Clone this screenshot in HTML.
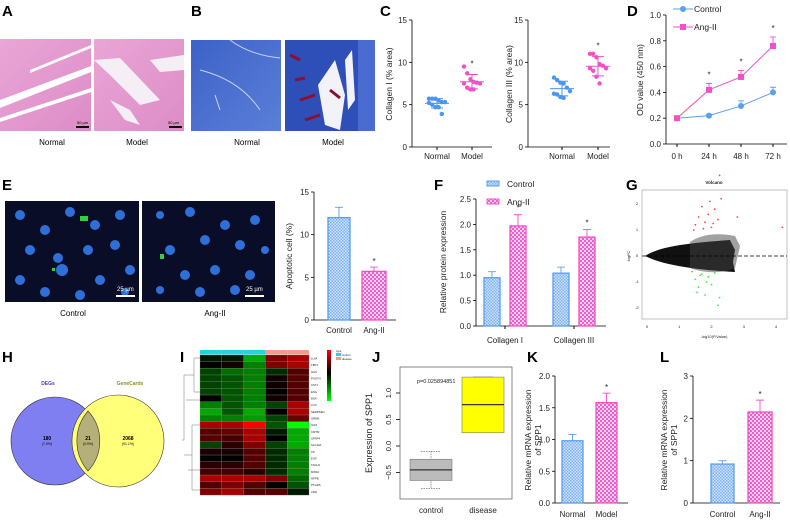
<!DOCTYPE html>
<html><head><meta charset="utf-8"><style>
html,body{margin:0;padding:0;background:#fff;}
svg{display:block;font-family:"Liberation Sans",Arial,sans-serif;}
</style></head><body>
<svg id="fig" width="790" height="522" viewBox="0 0 790 522" xmlns="http://www.w3.org/2000/svg">
<defs>
<pattern id="pb" width="3" height="3" patternUnits="userSpaceOnUse"><rect width="3" height="3" fill="#cfe2fb"/><rect width="1.5" height="1.5" fill="#7fb2f2"/><rect x="1.5" y="1.5" width="1.5" height="1.5" fill="#7fb2f2"/></pattern>
<pattern id="pp" width="4" height="4" patternUnits="userSpaceOnUse"><rect width="4" height="4" fill="#fbd3ef"/><rect width="2" height="2" fill="#f25ccb"/><rect x="2" y="2" width="2" height="2" fill="#f25ccb"/></pattern>
<linearGradient id="he1" x1="0" y1="0" x2="1" y2="1"><stop offset="0" stop-color="#e9a6d6"/><stop offset="1" stop-color="#dd8cc6"/></linearGradient>
<linearGradient id="ma1" x1="0" y1="0" x2="1" y2="1"><stop offset="0" stop-color="#3d62c8"/><stop offset="1" stop-color="#5a7fd8"/></linearGradient>
</defs>
<g font-weight="bold" font-size="15" fill="#000">
<text x="2" y="16">A</text><text x="191" y="16">B</text><text x="380" y="16">C</text><text x="627" y="16">D</text>
<text x="2" y="190">E</text><text x="434" y="190">F</text><text x="626" y="190">G</text>
<text x="2" y="362">H</text><text x="180" y="362">I</text><text x="372" y="362">J</text><text x="527" y="362">K</text><text x="660" y="362">L</text>
</g>
<!-- A images -->
<g>
<rect x="0" y="39" width="91" height="92" fill="url(#he1)"/>
<path d="M0 100 L91 66 L91 72 L0 108Z M0 118 L91 88 L91 92 L0 122Z M30 70 L91 45 L91 48 L30 73Z" fill="#fff"/>
<rect x="76" y="126" width="13" height="2" fill="#000"/><text x="77" y="124" font-size="4">50 µm</text>
</g>
<g>
<rect x="94" y="39" width="90" height="92" fill="url(#he1)"/>
<path d="M94 60 L120 58 L160 100 L140 105 L110 75Z M150 60 L184 55 L184 70 L160 72Z M110 100 L130 110 L140 125 L125 120Z" fill="#f5eef5"/>
<rect x="169" y="126" width="13" height="2" fill="#000"/><text x="168" y="124" font-size="4">50 µm</text>
</g>
<text x="52" y="145" font-size="8" text-anchor="middle">Normal</text>
<text x="137" y="145" font-size="8" text-anchor="middle">Model</text>
<!-- B images -->
<g>
<rect x="191" y="40" width="90" height="91" fill="url(#ma1)"/>
<path d="M230 40 Q250 55 280 58 M200 70 Q240 80 260 110 M215 95 L220 110" stroke="#c8d4f0" stroke-width="1" fill="none"/>
</g>
<g>
<rect x="285" y="40" width="90" height="91" fill="#2f4fb8"/>
<path d="M318 85 L335 60 L345 95 L340 130 L325 125Z M345 60 L352 50 L355 100 L348 110Z" fill="#f2f2f8"/>
<path d="M290 55 L300 60 M295 80 L305 78 M300 100 L315 95 M330 90 L340 98 M305 120 L320 115" stroke="#8a1030" stroke-width="3"/>
<rect x="358" y="40" width="17" height="91" fill="#4a6cd0"/>
</g>
<text x="247" y="145" font-size="8" text-anchor="middle">Normal</text>
<text x="333" y="145" font-size="8" text-anchor="middle">Model</text>
<!-- E images -->
<g>
<rect x="5" y="201" width="134" height="101" fill="#0a0d28"/>
<g fill="#2f6fd8"><circle cx="20" cy="215" r="5"/><circle cx="45" cy="230" r="5"/><circle cx="70" cy="212" r="5"/><circle cx="95" cy="225" r="5"/><circle cx="120" cy="215" r="5"/><circle cx="30" cy="250" r="5"/><circle cx="58" cy="258" r="5"/><circle cx="88" cy="250" r="5"/><circle cx="115" cy="245" r="5"/><circle cx="20" cy="280" r="5"/><circle cx="62" cy="270" r="6"/><circle cx="100" cy="280" r="5"/><circle cx="130" cy="270" r="5"/><circle cx="45" cy="292" r="5"/><circle cx="80" cy="295" r="5"/><circle cx="125" cy="292" r="4"/></g>
<rect x="80" y="216" width="8" height="5" fill="#30d040"/><rect x="52" y="268" width="3" height="3" fill="#30d040"/>
<rect x="116" y="295" width="19" height="2" fill="#fff"/><text x="117" y="291" font-size="6" fill="#fff">25 µm</text>
</g>
<g>
<rect x="142" y="201" width="133" height="101" fill="#0a0d28"/>
<g fill="#2f6fd8"><circle cx="160" cy="215" r="4"/><circle cx="190" cy="212" r="5"/><circle cx="225" cy="225" r="5"/><circle cx="255" cy="220" r="5"/><circle cx="170" cy="250" r="5"/><circle cx="205" cy="240" r="5"/><circle cx="240" cy="245" r="5"/><circle cx="265" cy="250" r="4"/><circle cx="185" cy="275" r="5"/><circle cx="215" cy="270" r="5"/><circle cx="250" cy="275" r="5"/><circle cx="160" cy="290" r="4"/><circle cx="200" cy="292" r="5"/><circle cx="235" cy="290" r="5"/></g>
<rect x="160" y="254" width="4" height="5" fill="#30d040"/>
<rect x="245" y="295" width="19" height="2" fill="#fff"/><text x="246" y="291" font-size="6" fill="#fff">25 µm</text>
</g>
<text x="73" y="316" font-size="8" text-anchor="middle">Control</text>
<text x="215" y="316" font-size="8" text-anchor="middle">Ang-II</text>
<!-- H venn -->
<g>
<circle cx="55" cy="441" r="44" fill="#7f7ff2" stroke="#333" stroke-width="0.6"/>
<circle cx="118" cy="441" r="46" fill="#ffff7a" stroke="#333" stroke-width="0.6"/>
<path d="M88 411 A44 44 0 0 1 88 471 A46 46 0 0 1 88 411Z" fill="#b5b07a" stroke="#333" stroke-width="0.6"/>
<text x="48" y="385" font-size="5" font-weight="bold" fill="#4040e0" text-anchor="middle">DEGs</text>
<text x="130" y="385" font-size="5" font-weight="bold" fill="#909020" text-anchor="middle">GeneCards</text>
<g font-size="5" text-anchor="middle" font-weight="bold"><text x="47" y="440">180</text><text x="88" y="440">21</text><text x="128" y="440">2068</text></g>
<g font-size="3.5" text-anchor="middle"><text x="47" y="445">(7.9%)</text><text x="88" y="445">(0.9%)</text><text x="128" y="445">(91.1%)</text></g>
</g>
<g id="charts"></g>
</svg>
<script>
// ---- data ----
const cNormal=[5.7,5.7,5.7,5.5,5.3,5.3,5.2,5.0,4.7,4.7,3.9];
const cModel=[9.5,8.7,8.0,7.7,7.6,7.5,7.5,7.0,6.8,6.8];
const c3Normal=[8.2,7.9,7.6,7.5,7.0,6.6,6.3,6.2,5.9,5.8];
const c3Model=[11.0,11.0,10.6,9.8,9.6,9.3,9.3,9.0,8.3,7.5];
const dTimes=['0 h','24 h','48 h','72 h'];
const dControl=[0.2,0.22,0.295,0.4];
const dControlErr=[0,0.01,0.04,0.04];
const dAng=[0.2,0.42,0.52,0.76];
const dAngErr=[0,0.05,0.05,0.07];
const eGroups=['Control','Ang-II'];
const eValues=[12.0,5.7];
const eErr=[1.2,0.5];
const fCats=['Collagen I','Collagen III'];
const fControl=[0.95,1.04];
const fControlErr=[0.12,0.12];
const fAng=[1.97,1.75];
const fAngErr=[0.22,0.15];
const heatRows=['LUM','FBP1','GAS','POSTN','CST1','ENG','BOK','LOX','SERPINE1','GREM','IGF2','CMTM','SFRP4','SLC40A','CP','EGF','TAGLN','MXRA','NPPB','PTGDS','CRH'];
const heatVals=[
[-0.3,-0.3,-2,1.5,2],[0,0.3,-1.5,1.5,2],[-0.8,-1.3,-1.5,-0.5,1],[-0.8,-1,-1.5,0.2,1],[-0.8,-1,-1.5,0.2,1],
[-0.8,-1,-1.5,0,1],[0,-1,-1.5,0.2,1],[-1.5,-1,-1.5,-0.8,2],[-2,-1,-2,0,2],[-1.5,-1.5,-1.8,-0.8,1.2],
[2,2,3,-1,-3],[1,1.2,2,-0.3,-2],[1,0.8,2,0,-2],[-0.8,0.5,1.5,-0.8,-2],[0.3,0.3,1,-0.5,-1.5],
[0,0,1,-0.5,-1.5],[0.5,0.5,1,-0.5,-1.5],[0.8,0.8,0.5,-0.5,-1.5],[2,2,2,1.5,-1.2],[1,1.5,1,0,-1],[1.5,2,1,1,-0.3]];
const heatTypes=['control','control','control','disease','disease'];
const volcUp=[[1.5,1.2],[1.6,1.5],[1.7,1.9],[1.8,1.3],[1.9,1.6],[2.0,1.1],[2.1,1.8],[2.2,1.4],[1.45,1.0],[1.75,1.05],[2.3,2.2],[1.95,2.1],[2.05,1.25],[2.8,1.5],[4.2,1.1],[2.25,3.1]];
const volcDown=[[1.4,-0.6],[1.5,-0.9],[1.6,-1.2],[1.7,-0.7],[1.8,-1.5],[1.9,-0.8],[2.0,-1.1],[2.1,-0.65],[2.2,-1.9],[1.55,-1.4],[1.65,-0.75],[2.25,-1.6],[1.85,-1.0]];
const jControl={min:-0.8,q1:-0.65,med:-0.45,q3:-0.25,max:-0.1};
const jDisease={min:0.25,q1:0.25,med:0.78,q3:1.3,max:1.3};
const kGroups=['Normal','Model'];
const kValues=[0.98,1.58];
const kErr=[0.1,0.15];
const lGroups=['Control','Ang-II'];
const lValues=[0.92,2.15];
const lErr=[0.08,0.28];

const NS='http://www.w3.org/2000/svg';
const root=document.getElementById('charts');
function mk(tag,a,p){const e=document.createElementNS(NS,tag);for(const k in a)e.setAttribute(k,a[k]);(p||root).appendChild(e);return e;}
function tx(x,y,s,a,p){const e=mk('text',Object.assign({x:x,y:y,'font-size':8,fill:'#222'},a||{}),p);e.textContent=s;return e;}
function lin(d0,d1,r0,r1){return v=>r0+(v-d0)/(d1-d0)*(r1-r0);}
function yAxis(g,x,sc,ticks,labels,x1){
  const l=mk('line',{x1:x,x2:x,y1:sc(ticks[0]),y2:sc(ticks[ticks.length-1]),stroke:'#000','stroke-width':0.8},g);
  
  
  ticks.forEach((t,i)=>{
    const tk=mk('line',{x1:x-3,x2:x,y1:sc(t),y2:sc(t),stroke:'#000','stroke-width':0.8},g);
    
    
    const lb=tx(x-5,sc(t)+3,labels[i],{'text-anchor':'end'},g);
    
    
  });
  const xl=mk('line',{x1:x,x2:x1,y1:sc(ticks[0]),y2:sc(ticks[0]),stroke:'#000','stroke-width':0.8},g);
  
  
}
function ylabel(g,x,y,s,size){const e=tx(x,y,s,{'text-anchor':'middle',transform:'rotate(-90 '+x+' '+y+')','font-size':size||8.5},g);return e;}
function errBar(g,x,yv,ye,col,w){
  const e=mk('path',{d:'M'+x+' '+yv+'V'+ye+'M'+(x-w)+' '+ye+'H'+(x+w),stroke:col,'stroke-width':0.9,fill:'none'},g);
  
  
}
function star(g,x,y){const s=tx(x,y,'*',{'text-anchor':'middle','font-size':8},g);}
function bar(g,x,w,sc,v,err,blue,name){
  const fill=blue?'url(#pb)':'url(#pp)',st=blue?'#5a9ef0':'#f050c8';
  errBar(g,x+w/2,sc(v),sc(v+err),st,4);
  const r=mk('rect',{x:x,y:sc(v),width:w,height:sc(0)-sc(v),fill:fill,stroke:st,'stroke-width':1.3},g);
  
  
}
function scatterGroup(g,cx,sc,vals,col){
  vals.forEach((v,i)=>{
    const c=mk('circle',{cx:cx+((i%6)-2.5)*3.2,cy:sc(v),r:2.2,fill:col},g);
    
    
  });
  const m=vals.reduce((a,b)=>a+b,0)/vals.length;
  const sd=Math.sqrt(vals.reduce((a,b)=>a+(b-m)*(b-m),0)/(vals.length-1));
  const ln=mk('path',{d:'M'+(cx-12)+' '+sc(m)+'H'+(cx+12)+'M'+(cx-6)+' '+sc(m+sd)+'H'+(cx+6)+'M'+(cx-6)+' '+sc(m-sd)+'H'+(cx+6)+'M'+cx+' '+sc(m+sd)+'V'+sc(m-sd),stroke:col,'stroke-width':1,fill:'none'},g);
  
  
  return m+sd;
}
function group(name){const g=mk('g',{});return g;}
function xlab(g,x,y,s){const e=tx(x,y,s,{'text-anchor':'middle'},g);}

// ---- C1 ----
(function(){const g=group('chart-collagen-i');const sc=lin(0,15,147,20);
 yAxis(g,412,sc,[0,5,10,15],['0','5','10','15'],492);
 ylabel(g,392,84,'Collagen I (% area)');
 scatterGroup(g,437,sc,cNormal,'#4a96f0');const t=scatterGroup(g,472,sc,cModel,'#f050c8');star(g,472,sc(t)-8);
 xlab(g,437,159,'Normal');xlab(g,472,159,'Model');
 [437,472].forEach(x=>{const k=mk('line',{x1:x,x2:x,y1:147,y2:150,stroke:'#000'},g);});})();
// ---- C2 ----
(function(){const g=group('chart-collagen-iii');const sc=lin(0,15,147,20);
 yAxis(g,528,sc,[0,5,10,15],['0','5','10','15'],610);
 ylabel(g,512,84,'Collagen III (% area)');
 scatterGroup(g,562,sc,c3Normal,'#4a96f0');const t=scatterGroup(g,598,sc,c3Model,'#f050c8');star(g,598,sc(t)-8);
 xlab(g,562,159,'Normal');xlab(g,598,159,'Model');
 [562,598].forEach(x=>{const k=mk('line',{x1:x,x2:x,y1:147,y2:150,stroke:'#000'},g);});})();
// ---- D ----
(function(){const g=group('chart-od-line');const sc=lin(0,1,144,15);const xs=i=>677+i*32;
 yAxis(g,666,sc,[0,0.2,0.4,0.6,0.8,1.0],['0.0','0.2','0.4','0.6','0.8','1.0'],787);
 ylabel(g,643,80,'OD value (450 nm)');
 dTimes.forEach((t,i)=>{xlab(g,xs(i),159,t);const k=mk('line',{x1:xs(i),x2:xs(i),y1:144,y2:147,stroke:'#000'},g);});
 [[dControl,dControlErr,'#5aa0f0',0],[dAng,dAngErr,'#f050c8',1]].forEach(([v,e,c,sq])=>{
  v.forEach((y,i)=>{if(e[i]>0)errBar(g,xs(i),sc(y),sc(y+e[i]),c,3);});
  const p=mk('polyline',{points:v.map((y,i)=>xs(i)+','+sc(y)).join(' '),fill:'none',stroke:c,'stroke-width':1},g);
  
  
  v.forEach((y,i)=>{const m=sq?mk('rect',{x:xs(i)-3,y:sc(y)-3,width:6,height:6,fill:c},g):mk('circle',{cx:xs(i),cy:sc(y),r:3,fill:c},g);
   
   });
 });
 for(let i=1;i<4;i++)star(g,xs(i),sc(dAng[i]+dAngErr[i])-6);
 const l1=mk('g',{},g);
 mk('line',{x1:673,x2:693,y1:9,y2:9,stroke:'#5aa0f0'},l1);mk('circle',{cx:683,cy:9,r:3,fill:'#5aa0f0'},l1);tx(694,12,'Control',{'font-size':8.5},l1);
 const l2=mk('g',{},g);
 mk('line',{x1:673,x2:693,y1:27,y2:27,stroke:'#f050c8'},l2);mk('rect',{x:680,y:24,width:6,height:6,fill:'#f050c8'},l2);tx(694,30,'Ang-II',{'font-size':8.5},l2);
})();
// ---- E bar ----
(function(){const g=group('chart-apoptotic');const sc=lin(0,15,320,192);
 yAxis(g,314,sc,[0,5,10,15],['0','5','10','15'],396);
 ylabel(g,292,256,'Apoptotic cell (%)');
 bar(g,328,22,sc,eValues[0],eErr[0],true,'bar-control');bar(g,362,24,sc,eValues[1],eErr[1],false,'bar-angii');
 star(g,374,sc(eValues[1]+eErr[1])-3);
 xlab(g,339,333,eGroups[0]);xlab(g,374,333,eGroups[1]);})();
// ---- F ----
(function(){const g=group('chart-protein');const sc=lin(0,2.5,326,199);
 yAxis(g,476,sc,[0,0.5,1.0,1.5,2.0,2.5],['0.0','0.5','1.0','1.5','2.0','2.5'],606);
 ylabel(g,446,262,'Relative protein expression');
 [[484,510],[553,579]].forEach((p,i)=>{bar(g,p[0],16,sc,fControl[i],fControlErr[i],true,'bar-control-'+i);bar(g,p[1],16,sc,fAng[i],fAngErr[i],false,'bar-angii-'+i);
  star(g,p[1]+8,sc(fAng[i]+fAngErr[i])-4);xlab(g,(p[0]+p[1]+16)/2,343,fCats[i]);
  const k=mk('line',{x1:(p[0]+p[1]+16)/2,x2:(p[0]+p[1]+16)/2,y1:326,y2:329,stroke:'#000'},g);});
 const l1=mk('g',{},g);
 mk('rect',{x:487,y:181,width:12,height:5,fill:'url(#pb)',stroke:'#5a9ef0'},l1);tx(507,187,'Control',{'font-size':8.5},l1);
 const l2=mk('g',{},g);
 mk('rect',{x:487,y:199,width:12,height:5,fill:'url(#pp)',stroke:'#f050c8'},l2);tx(507,205,'Ang-II',{'font-size':8.5},l2);
})();
// ---- G volcano ----
(function(){const g=group('chart-volcano');const sx=lin(0,4,647,776),sy=lin(0,1,256,230);
 const b=mk('rect',{x:642,y:190,width:145,height:129,fill:'#fff',stroke:'#999','stroke-width':0.6},g);
 const cl=mk('path',{d:'M645 256 C660 246 690 243 730 240 L735 250 L733 262 L735 272 C700 270 665 266 645 256Z',fill:'#111'},g);
 const cl2=mk('path',{d:'M690 242 C700 235 715 232 735 236 L740 246 L735 268 C720 275 700 272 690 268Z',fill:'#444','fill-opacity':0.5},g);
 volcUp.forEach(p=>{const c=mk('circle',{cx:sx(p[0]),cy:sy(p[1]),r:0.9,fill:'#f44'},g);});
 volcDown.forEach(p=>{const c=mk('circle',{cx:sx(p[0]),cy:sy(p[1]),r:0.9,fill:'#3e3'},g);});
 const d=mk('line',{x1:642,x2:787,y1:256,y2:256,stroke:'#000','stroke-dasharray':'4 2','stroke-width':0.8},g);
 [0,1,2,3,4].forEach(v=>{const t=tx(sx(v),328,String(v),{'font-size':4,'text-anchor':'middle'},g);});
 [-2,-1,0,1,2].forEach(v=>{const t=tx(637,sy(v)+1,String(v),{'font-size':4,'text-anchor':'middle'},g);});
 const tt=tx(714,184,'Volcano',{'font-size':4.5,'text-anchor':'middle','font-weight':'bold'},g);
 const xt=tx(714,338,'-log10(P.Value)',{'font-size':4,'text-anchor':'middle'},g);
 ylabel(g,630,256,'logFC',4);
})();
// ---- I heatmap ----
(function(){const g=group('chart-heatmap');const x0=200,cw=21.8,y0=355,rh=6.67;
 function col(v){const t=Math.max(-1,Math.min(1,v/3));return t>=0?'rgb('+Math.round(255*t)+',0,0)':'rgb(0,'+Math.round(-255*t)+',0)';}
 heatTypes.forEach((t,j)=>{const r=mk('rect',{x:x0+j*cw,y:350,width:cw,height:4.5,fill:t==='control'?'#22d3e0':'#f49a90'},g);});
 heatVals.forEach((row,i)=>{row.forEach((v,j)=>{const r=mk('rect',{x:x0+j*cw,y:y0+i*rh,width:cw,height:rh,fill:col(v),stroke:'#888','stroke-width':0.3},g);
  
  });
  const t=tx(311,y0+i*rh+4.5,heatRows[i],{'font-size':2.8},g);});
 const dg=mk('path',{d:'M200 358 H194 V392 H200 M194 375 H184 V440 H182 M200 425 H192 V490 H200 M192 455 H184 M186 400 H200 M188 470 H200',stroke:'#777','stroke-width':0.5,fill:'none'},g);
 const gr=mk('linearGradient',{id:'hg',x1:0,y1:0,x2:0,y2:1},g);[['0','#f00'],['0.45','#000'],['1','#0f0']].forEach(s=>mk('stop',{offset:s[0],'stop-color':s[1]},gr));
 const cb=mk('rect',{x:327,y:350,width:4,height:51,fill:'url(#hg)'},g);
 const lg=mk('g',{},g);
 tx(336,352,'type',{'font-size':2.8},lg);mk('rect',{x:336,y:353,width:5,height:3,fill:'#22d3e0'},lg);tx(342,356,'control',{'font-size':2.8},lg);mk('rect',{x:336,y:357,width:5,height:3,fill:'#f49a90'},lg);tx(342,360,'disease',{'font-size':2.8},lg);
})();
// ---- J box ----
(function(){const g=group('chart-spp1-box');const sc=lin(0,1,446,393);
 const fr=mk('rect',{x:400,y:367,width:112,height:132,fill:'none',stroke:'#555','stroke-width':0.7},g);
 [-0.5,0,0.5,1.0].forEach(v=>{const k=mk('line',{x1:396,x2:400,y1:sc(v),y2:sc(v),stroke:'#333'},g);
  const l=tx(391,sc(v),v.toFixed(1).replace('-','−'),{'text-anchor':'middle',transform:'rotate(-90 391 '+sc(v)+')','font-size':7.5},g);});
 ylabel(g,372,433,'Expression of SPP1',9);
 [[jControl,431,'#bbb'],[jDisease,483,'#ffff00']].forEach(([b,cx,c],i)=>{
  const w=mk('path',{d:'M'+cx+' '+sc(b.max)+'V'+sc(b.min)+'M'+(cx-10)+' '+sc(b.max)+'H'+(cx+10)+'M'+(cx-10)+' '+sc(b.min)+'H'+(cx+10),stroke:'#555','stroke-width':0.6,'stroke-dasharray':i?'':'1.5 1',fill:'none'},g);
  
  
  const r=mk('rect',{x:cx-21,y:sc(b.q3),width:42,height:sc(b.q1)-sc(b.q3),fill:c,stroke:'#777','stroke-width':0.6},g);
  
  
  const m=mk('line',{x1:cx-21,x2:cx+21,y1:sc(b.med),y2:sc(b.med),stroke:'#333','stroke-width':1.3},g);
  
  
 });
 xlab(g,431,513,'control');xlab(g,483,513,'disease');
 const p=tx(417,383,'p=0.025894851',{'font-size':5.5},g);
})();
// ---- K ----
(function(){const g=group('chart-spp1-tissue');const sc=lin(0,2,503,376);
 yAxis(g,555,sc,[0,0.5,1.0,1.5,2.0],['0.0','0.5','1.0','1.5','2.0'],628);
 ylabel(g,531,440,'Relative mRNA expression');ylabel(g,541,440,'of SPP1');
 bar(g,562,21,sc,kValues[0],kErr[0],true,'bar-normal');bar(g,596,21,sc,kValues[1],kErr[1],false,'bar-model');
 star(g,606.5,sc(kValues[1]+kErr[1])-3);xlab(g,572.5,517,kGroups[0]);xlab(g,606.5,517,kGroups[1]);})();
// ---- L ----
(function(){const g=group('chart-spp1-cells');const sc=lin(0,3,503,376);
 yAxis(g,693,sc,[0,1,2,3],['0','1','2','3'],780);
 ylabel(g,667,440,'Relative mRNA expression');ylabel(g,677,440,'of SPP1');
 bar(g,711,23,sc,lValues[0],lErr[0],true,'bar-control');bar(g,748,24,sc,lValues[1],lErr[1],false,'bar-angii');
 star(g,760,sc(lValues[1]+lErr[1])-3);xlab(g,722.5,517,lGroups[0]);xlab(g,760,517,lGroups[1]);})();
</script>
</body></html>
